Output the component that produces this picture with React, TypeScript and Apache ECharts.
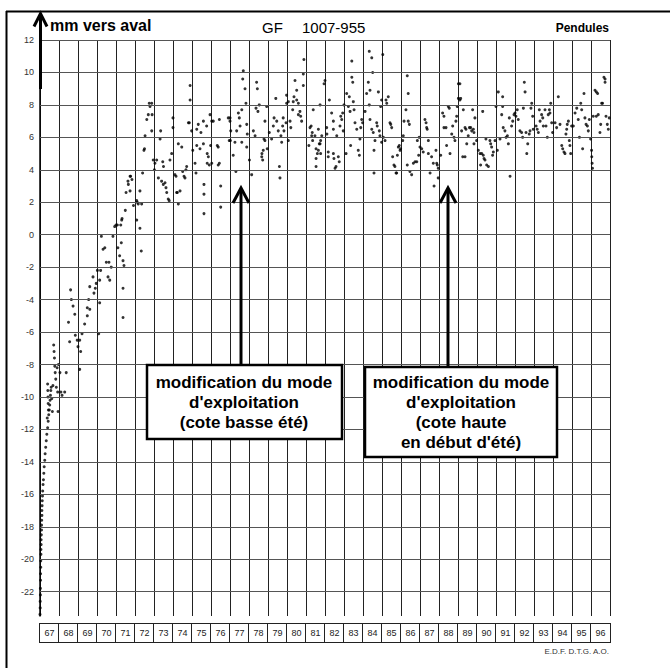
import React, { useEffect, useRef } from "react";
import * as echarts from "echarts";

const yTicks = [12, 10, 8, 6, 4, 2, 0, -2, -4, -6, -8, -10, -12, -14, -16, -18, -20, -22];
const yearLabels = ["67","68","69","70","71","72","73","74","75","76","77","78","79","80","81","82","83","84","85","86","87","88","89","90","91","92","93","94","95","96"];

const pts1967_1971: number[][] = [
  [67.00,-23.4],[67.01,-23.0],[67.01,-22.6],[67.02,-22.2],[67.02,-21.8],[67.03,-21.3],[67.03,-20.9],[67.04,-20.5],
  [67.04,-20.1],[67.05,-19.7],[67.05,-19.4],[67.06,-19.1],[67.06,-18.8],[67.07,-18.5],[67.08,-18.2],[67.08,-17.9],
  [67.09,-17.6],[67.10,-17.3],[67.10,-17.0],[67.11,-16.7],[67.12,-16.4],[67.13,-16.1],[67.14,-15.8],[67.16,-15.4],
  [67.18,-15.1],[67.20,-14.7],[67.22,-14.3],[67.25,-13.9],[67.27,-13.5],[67.30,-13.1],[67.33,-12.7],[67.36,-12.3],
  [67.38,-11.3],[67.40,-11.9],[67.40,-9.2],[67.41,-9.6],[67.42,-10.0],[67.43,-10.4],[67.43,-11.5],[67.44,-10.8],
  [67.46,-11.1],[67.49,-10.8],[67.51,-10.5],[67.53,-10.2],[67.55,-9.9],[67.57,-9.6],[67.59,-9.4],[67.62,-10.1],
  [67.65,-10.9],[67.68,-9.3],[67.72,-6.8],[67.74,-7.2],[67.76,-7.6],[67.78,-8.1],[67.80,-8.5],[67.83,-8.9],
  [67.86,-9.4],[67.90,-8.2],[67.93,-9.7],[67.95,-10.9],[67.97,-8.0],
  [68.05,-8.5],[68.10,-9.7],[68.16,-9.9],[68.30,-9.7],[68.38,-8.5],[68.50,-5.4],[68.56,-6.6],[68.61,-3.4],
  [68.65,-4.0],[68.74,-4.4],[68.83,-4.9],[68.86,-6.2],[68.96,-6.5],
  [69.00,-6.9],[69.09,-6.5],[69.09,-8.3],[69.14,-7.2],[69.21,-6.1],[69.35,-5.5],[69.49,-5.0],[69.49,-4.5],
  [69.56,-4.0],[69.62,-4.6],[69.62,-3.2],[69.79,-2.6],[69.84,-3.6],[69.91,-3.3],[69.96,-3.0],
  [70.02,-2.2],[70.09,-6.1],[70.14,-4.2],[70.14,-2.8],[70.19,-2.2],[70.23,-0.1],[70.32,-0.9],[70.41,-0.8],
  [70.49,-1.7],[70.58,-2.6],[70.63,-1.7],[70.67,-2.8],[70.75,-2.0],[70.84,-0.1],[70.93,0.5],[71.00,0.6],
  [71.07,0.6],[71.10,-0.8],[71.19,-1.3],[71.25,0.6],[71.28,-0.5],[71.30,0.9],[71.32,1.0],[71.37,-1.6],
  [71.37,-3.3],[71.37,-5.1],[71.42,-1.9],[71.49,1.5],[71.53,2.6],[71.63,3.3],[71.65,3.1],[71.74,2.7],
  [71.74,3.6],[71.77,3.6],[71.84,3.4],[71.92,1.8]
];

const pts1972_1976: number[][] = [
  [72.09,2.1],[72.09,0.9],[72.12,2.0],[72.17,1.9],[72.26,2.7],[72.26,0.4],[72.33,-1.0],[72.35,1.9],
  [72.40,3.8],[72.47,5.2],[72.50,5.3],[72.53,6.1],[72.62,7.1],[72.70,7.4],[72.75,8.1],[72.79,7.9],
  [72.88,8.1],[72.88,6.4],[72.90,7.4],[72.96,4.6],[73.02,4.0],[73.05,4.4],
  [73.14,4.6],[73.23,3.5],[73.32,5.9],[73.35,6.4],[73.40,3.3],[73.46,4.5],[73.49,3.1],[73.50,4.2],
  [73.58,3.2],[73.63,2.9],[73.67,2.6],[73.75,2.2],[73.80,2.1],[73.84,4.6],[73.93,5.0],[74.00,6.6],[74.00,7.2],
  [74.10,3.7],[74.16,3.6],[74.19,2.6],[74.23,2.6],[74.28,1.9],[74.28,5.6],[74.37,2.7],[74.46,5.4],
  [74.51,3.9],[74.58,3.6],[74.63,3.5],[74.68,4.0],[74.72,4.2],[74.81,6.9],[74.86,6.9],[74.90,9.2],
  [74.90,8.3],[74.98,6.4],[75.04,5.2],
  [75.16,4.4],[75.21,3.8],[75.25,5.5],[75.25,6.5],[75.33,6.8],[75.42,5.3],[75.47,6.3],[75.60,5.6],
  [75.60,7.0],[75.63,3.1],[75.63,2.5],[75.63,1.3],[75.77,6.7],[75.80,5.0],[75.80,4.4],[75.86,4.8],
  [75.91,4.3],[75.95,7.4],[75.98,5.5],[76.04,7.0],[76.04,4.4],
  [76.12,7.0],[76.33,5.5],[76.38,4.3],[76.38,5.4],[76.44,4.4],[76.44,7.1],[76.51,3.0],[76.51,1.7],
  [76.91,7.2],[76.96,5.8],[77.00,7.2],[77.00,7.0],[77.04,6.4],[77.02,5.8]
];

const pts1977_1981: number[][] = [
  [77.17,4.9],[77.26,5.7],[77.31,3.9],[77.35,6.4],[77.44,7.5],[77.49,7.2],[77.53,6.7],[77.62,7.7],
  [77.62,5.7],[77.67,9.6],[77.70,10.1],[77.79,9.0],[77.84,8.1],[77.88,5.4],[77.88,6.8],[77.91,6.2],
  [78.02,4.6],[78.14,3.7],
  [78.23,6.4],[78.32,6.1],[78.37,7.8],[78.40,9.4],[78.44,9.0],[78.47,7.6],[78.54,8.0],[78.67,4.8],
  [78.68,5.0],[78.72,4.6],[78.75,5.2],[78.79,5.9],[78.84,7.0],[78.84,5.8],[78.93,7.9],[78.96,5.3],[79.07,6.3],
  [79.19,5.9],[79.28,6.7],[79.32,7.2],[79.41,8.4],[79.46,7.0],[79.54,6.4],[79.60,4.2],[79.63,3.5],
  [79.68,6.1],[79.72,5.7],[79.77,6.7],[79.80,7.2],[79.84,6.4],[79.95,6.9],[79.98,8.6],[79.98,8.1],
  [80.07,8.2],[80.07,5.8],
  [80.16,7.0],[80.20,6.6],[80.30,7.7],[80.33,8.2],[80.37,8.5],[80.42,9.5],[80.51,8.9],[80.51,8.3],
  [80.60,8.1],[80.60,7.4],[80.68,7.6],[80.72,7.3],[80.77,7.0],[80.86,9.2],[80.86,9.9],[80.89,10.8],
  [81.15,5.5],[81.21,6.6],[81.27,6.7],[81.30,6.1],[81.33,6.3],[81.35,5.8],[81.38,7.7],[81.47,6.1],
  [81.53,5.3],[81.53,4.7],[81.53,4.2],[81.60,5.0],[81.65,5.2],[81.65,6.5],[81.70,5.6],[81.74,8.0],
  [81.74,5.6],[81.77,5.8],[81.77,5.0],[81.83,6.1],[81.95,9.3],[82.00,9.5]
];

const pts1982_1986: number[][] = [
  [82.09,6.6],[82.10,6.2],[82.17,5.1],[82.17,4.8],[82.23,8.3],[82.35,7.5],[82.44,7.0],[82.44,6.5],
  [82.44,5.0],[82.47,4.7],[82.53,4.1],[82.58,4.2],[82.62,6.1],[82.70,4.8],[82.75,4.5],[82.79,6.7],
  [82.83,7.3],[82.88,7.1],[82.93,7.5],[82.96,6.4],[83.00,8.0],
  [83.11,5.0],[83.14,8.7],[83.23,7.9],[83.28,8.5],[83.32,7.6],[83.35,5.5],[83.41,10.7],[83.41,9.7],
  [83.46,9.4],[83.49,8.2],[83.53,7.7],[83.58,6.9],[83.67,6.5],[83.75,5.2],[83.81,4.9],[83.84,5.9],
  [83.88,6.6],[83.93,7.1],[83.98,6.9],
  [84.11,7.6],[84.19,8.7],[84.28,9.4],[84.33,11.3],[84.33,8.0],[84.37,8.9],[84.37,7.1],[84.46,10.9],
  [84.46,6.5],[84.51,10.0],[84.54,6.3],[84.58,3.8],[84.58,5.2],[84.63,5.8],[84.72,6.9],[84.75,6.7],
  [84.81,8.8],[84.86,6.4],[84.89,6.1],[84.93,7.9],[84.98,8.3],[84.98,5.7],[85.04,11.1],
  [85.07,6.0],[85.16,5.8],[85.21,8.3],[85.25,8.1],[85.33,8.5],[85.42,6.9],[85.46,6.8],[85.51,6.6],
  [85.56,4.8],[85.63,4.3],[85.68,4.2],[85.74,3.8],[85.77,3.8],[85.81,4.9],[85.86,5.4],[85.91,5.5],
  [85.95,5.2],[85.98,5.3],
  [86.09,5.8],[86.12,6.1],[86.16,7.0],[86.26,7.7],[86.33,9.8],[86.33,4.3],[86.38,8.7],[86.38,7.0],
  [86.44,6.8],[86.47,3.9],[86.56,3.7],[86.65,4.4],[86.74,4.5],[86.83,4.5],[86.86,5.8],[86.93,4.9],
  [86.96,6.0],[87.00,5.4]
];

const pts1987_1991: number[][] = [
  [87.09,5.3],[87.17,5.1],[87.26,7.1],[87.32,6.9],[87.35,6.6],[87.38,6.5],[87.44,5.8],[87.44,5.0],
  [87.53,3.8],[87.61,4.8],[87.70,4.4],[87.74,3.0],[87.84,5.2],[87.88,4.4],[87.91,4.3],[87.96,4.1],[87.96,3.5],
  [88.09,4.9],[88.19,7.5],[88.26,7.3],[88.26,6.6],[88.37,6.6],[88.40,5.5],[88.49,7.9],[88.54,7.8],
  [88.58,5.0],[88.67,6.2],[88.72,6.7],[88.79,6.0],[88.84,5.8],[88.89,7.0],[88.93,7.3],[88.96,7.9],
  [89.02,8.4],[89.02,9.3],
  [89.10,9.3],[89.10,8.3],[89.14,8.4],[89.19,6.4],[89.25,4.8],[89.28,7.7],[89.37,4.8],[89.37,6.6],
  [89.42,6.5],[89.46,5.6],[89.54,6.1],[89.60,6.6],[89.67,6.6],[89.72,6.4],[89.77,7.7],[89.81,6.5],
  [89.84,6.3],[89.84,5.6],[89.89,7.2],[89.98,5.8],
  [90.07,5.2],[90.16,5.0],[90.19,4.3],[90.25,5.0],[90.30,7.6],[90.33,4.9],[90.37,4.7],[90.42,4.6],
  [90.47,5.9],[90.51,4.3],[90.60,4.2],[90.68,5.8],[90.72,5.6],[90.77,5.4],[90.82,4.9],[90.86,5.1],
  [90.95,5.8],[91.00,7.9],
  [91.07,5.2],[91.12,8.8],[91.21,5.9],[91.30,7.4],[91.35,8.5],[91.35,7.9],[91.38,6.6],[91.47,6.4],
  [91.53,6.0],[91.60,6.1],[91.65,5.6],[91.70,7.2],[91.74,3.6],[91.82,6.7],[91.88,7.0],[91.95,7.4],[92.00,7.5]
];

const pts1992_1996: number[][] = [
  [92.05,7.3],[92.12,7.7],[92.17,7.1],[92.26,6.4],[92.35,6.3],[92.40,6.0],[92.44,7.8],[92.49,9.4],
  [92.53,8.8],[92.58,6.3],[92.62,5.0],[92.67,5.6],[92.75,6.2],[92.79,6.4],[92.84,7.8],[92.88,8.1],
  [92.93,7.3],[92.96,6.5],
  [93.11,6.7],[93.17,6.5],[93.23,6.3],[93.28,7.7],[93.32,7.0],[93.40,7.4],[93.46,7.2],[93.49,6.7],
  [93.58,7.7],[93.63,6.7],[93.70,6.0],[93.75,7.4],[93.81,7.7],[93.84,7.5],[93.88,8.1],[93.93,6.9],[93.98,6.3],
  [94.11,6.9],[94.19,6.6],[94.28,8.5],[94.37,6.8],[94.46,5.5],[94.51,5.3],[94.58,5.1],[94.63,5.0],
  [94.68,6.2],[94.72,6.5],[94.75,6.8],[94.81,7.0],[94.86,5.8],[94.89,5.5],[94.93,5.0],[94.98,6.7],
  [95.07,6.7],[95.16,7.5],[95.25,7.8],[95.33,7.1],[95.39,6.0],[95.46,8.1],[95.51,7.7],[95.56,5.3],
  [95.63,8.7],[95.68,7.2],[95.74,6.8],[95.81,6.7],[95.86,6.4],[95.91,7.1],[95.98,5.9],[96.03,5.2],
  [96.04,4.8],[96.06,4.4],[96.08,4.1],
  [96.12,7.3],[96.21,8.9],[96.28,8.8],[96.28,7.3],[96.35,8.7],[96.38,7.4],[96.47,6.3],[96.51,6.8],
  [96.56,8.1],[96.61,8.1],[96.68,9.7],[96.74,9.4],[96.74,9.6],[96.79,7.3],[96.86,6.8],[96.91,6.5],[96.96,7.2]
];

const FONT = '"Liberation Sans", Arial, sans-serif';

export default function App() {
  const ref = useRef<HTMLDivElement>(null);

  useEffect(() => {
    document.body.style.margin = "0";
    const chart = echarts.init(ref.current!, null, { renderer: "svg" });
    const allPts = [
      ...pts1967_1971, ...pts1972_1976, ...pts1977_1981,
      ...pts1982_1986, ...pts1987_1991, ...pts1992_1996,
    ];
    const txt = (x: number, y: number, text: string, font: string, align: string, vAlign = "middle", extra: any = {}) => ({
      type: "text",
      x, y,
      z: 100,
      style: {
        text, font, fill: "#000",
        align, textAlign: align,
        verticalAlign: vAlign, textVerticalAlign: vAlign,
        ...extra,
      },
    });
    const line = (x1: number, y1: number, x2: number, y2: number, w: number) => ({
      type: "line", z: 100,
      shape: { x1, y1, x2, y2 },
      style: { stroke: "#000", lineWidth: w },
    });
    const head = (cx: number, tipY: number, half: number, h: number) => ({
      type: "polyline", z: 100,
      shape: { points: [[cx - half, tipY + h], [cx, tipY], [cx + half, tipY + h]] },
      style: { stroke: "#000", lineWidth: 3, fill: "none" },
    });
    const boxFont = `bold 17px ${FONT}`;

    chart.setOption({
      animation: false,
      backgroundColor: "#fff",
      grid: { left: 40, top: 40, width: 570, height: 576, containLabel: false },
      xAxis: [
        {
          type: "value", min: 67, max: 97, interval: 1,
          axisLine: { show: false }, axisTick: { show: false }, axisLabel: { show: false },
          splitLine: { show: true, lineStyle: { color: "#222", width: 1 } },
        },
        {
          type: "category", data: yearLabels, position: "bottom", boundaryGap: true,
          axisLine: { show: false }, axisTick: { show: false }, splitLine: { show: false },
          axisLabel: {
            interval: 0, margin: 8, fontSize: 9, fontFamily: FONT, color: "#222",
            width: 19, height: 18, lineHeight: 18, align: "center",
            borderColor: "#222", borderWidth: 1, padding: 0, backgroundColor: "#fff",
          },
        },
      ],
      yAxis: {
        type: "value", min: -23.5, max: 12,
        axisLine: { show: true, lineStyle: { color: "#000", width: 1.5 } },
        axisTick: { show: false },
        splitLine: { show: false },
        axisLabel: {
          customValues: yTicks, margin: 6, fontSize: 9, fontFamily: FONT, color: "#333",
        },
      },
      series: [
        {
          type: "scatter",
          xAxisIndex: 0,
          data: allPts,
          symbol: "circle",
          symbolSize: 3,
          itemStyle: { color: "#000" },
          markLine: {
            silent: true,
            symbol: ["none", "none"],
            label: { show: false },
            lineStyle: { color: "#555", width: 1, type: "solid" },
            data: yTicks.map((v) => ({ yAxis: v })),
          },
        },
      ],
      graphic: [
        line(6.5, 11, 6.5, 668, 2),
        line(6, 11.5, 670, 11.5, 2),
        line(40.5, 89, 40.5, 16, 3),
        head(40.5, 13.5, 6.5, 13),
        txt(50, 25, "mm vers aval", `bold 16px ${FONT}`, "left"),
        txt(262, 27, "GF", `15px ${FONT}`, "left"),
        txt(302, 27, "1007-955", `15px ${FONT}`, "left"),
        txt(609, 28, "Pendules", `bold 12px ${FONT}`, "right"),
        txt(609, 651, "E.D.F. D.T.G. A.O.", `8px ${FONT}`, "right", "middle", { fill: "#333" }),
        {
          type: "rect", z: 99,
          shape: { x: 147, y: 365, width: 195, height: 74 },
          style: { fill: "#fff", stroke: "#000", lineWidth: 2.5 },
        },
        {
          type: "rect", z: 99,
          shape: { x: 365, y: 367, width: 192, height: 90 },
          style: { fill: "#fff", stroke: "#000", lineWidth: 2.5 },
        },
        txt(244, 402, "modification du mode\nd'exploitation\n(cote basse été)", boxFont, "center", "middle", { lineHeight: 20 }),
        txt(461, 412, "modification du mode\nd'exploitation\n(cote haute\nen début d'été)", boxFont, "center", "middle", { lineHeight: 20 }),
        line(241, 191, 241, 365, 3),
        head(241, 188, 8, 15),
        line(448, 191, 448, 367, 3),
        head(448, 188, 8, 15),
      ],
    });
    return () => chart.dispose();
  }, []);

  return (
    <div
      ref={ref}
      style={{ position: "fixed", left: 0, top: 0, width: 670, height: 668, background: "#fff" }}
    />
  );
}
